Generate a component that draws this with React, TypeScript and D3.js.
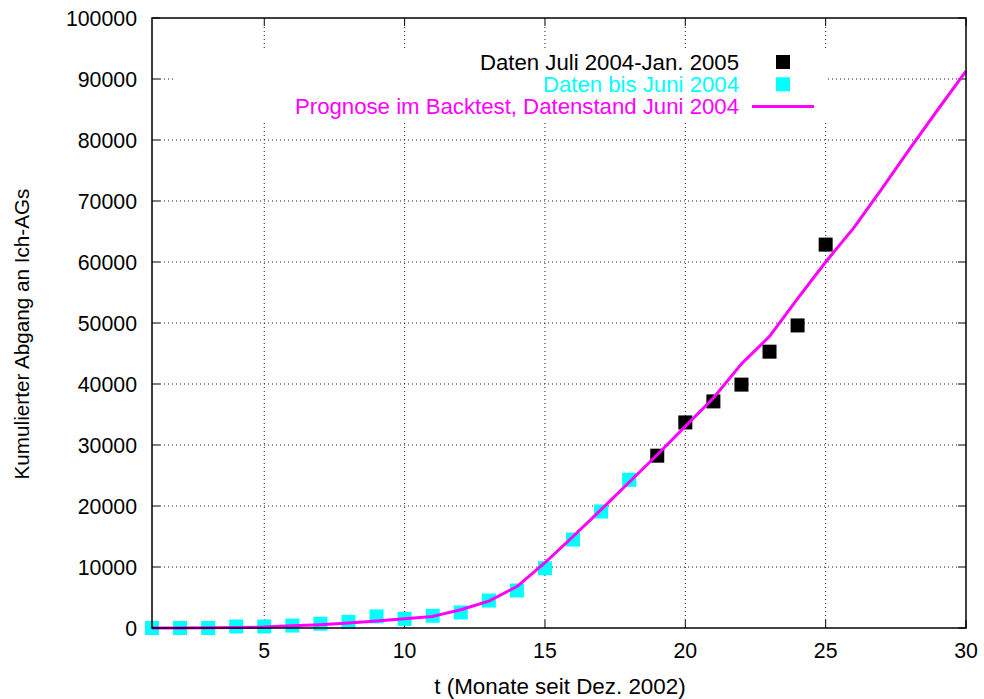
import React from "react";
import * as d3 from "d3";

const WIDTH = 984;
const HEIGHT = 699;
const M = { left: 152, right: 18, top: 18, bottom: 71 };
const FONT = "'Liberation Sans', Arial, Helvetica, sans-serif";

const CYAN = "#00ffff";
const MAGENTA = "#ff00ff";

// Daten bis Juni 2004 (t = 1..18)
const tOld = [1, 2, 3, 4, 5, 6, 7, 8, 9, 10, 11, 12, 13, 14, 15, 16, 17, 18];
const valOld = [0, 0, 0, 250, 250, 400, 700, 1000, 1900, 1500, 2000, 2550, 4500, 6150, 9800, 14500, 19100, 24300];

// Daten Juli 2004 - Jan. 2005 (t = 19..25)
const tNew = [19, 20, 21, 22, 23, 24, 25];
const valNew = [28250, 33700, 37150, 39900, 45300, 49600, 62850];

// Prognose im Backtest (t = 1..30)
const tForecast = [1, 2, 3, 4, 5, 6, 7, 8, 9, 10, 11, 12, 13, 14, 15, 16, 17, 18, 19, 20, 21, 22, 23, 24, 25, 26, 27, 28, 29, 30];
const valForecast = [
  0, 0, 50, 100, 150, 350, 550, 800, 1150, 1500, 1900, 3000, 4400, 6800, 10700,
  15000, 19400, 23900, 28400, 33050, 37700, 43300, 47800, 54000, 60000, 65600,
  72000, 78600, 85000, 91300,
];

const xTicks = [5, 10, 15, 20, 25, 30];
const yTicks = [0, 10000, 20000, 30000, 40000, 50000, 60000, 70000, 80000, 90000, 100000];

const legendItems = [
  { label: "Daten Juli 2004-Jan. 2005", color: "#000000", kind: "square" },
  { label: "Daten bis Juni 2004", color: CYAN, kind: "square" },
  { label: "Prognose im Backtest, Datenstand Juni 2004", color: MAGENTA, kind: "line" },
];

export default function App() {
  const x = d3.scaleLinear().domain([1, 30]).range([M.left, WIDTH - M.right]);
  const y = d3.scaleLinear().domain([0, 100000]).range([HEIGHT - M.bottom, M.top]);
  const x0 = M.left;
  const x1 = WIDTH - M.right;
  const y0 = HEIGHT - M.bottom;
  const y1 = M.top;
  const tick = 8;
  const sq = 14;

  const line = d3
    .line<number>()
    .x((_, i) => x(tForecast[i]))
    .y((d) => y(d));

  // legend box (gnuplot clears grid behind the key)
  const key = { x: 176, y: 51, w: 652, h: 69 };
  const keyRow = (i: number) => 62 + i * 22.3;

  return (
    <svg
      width={WIDTH}
      height={HEIGHT}
      style={{ position: "absolute", left: 0, top: 0, background: "#fff", fontFamily: FONT }}
    >
      {/* grid */}
      <g stroke="#222" strokeWidth={1} strokeDasharray="1,3">
        {xTicks
          .filter((t) => t < 30)
          .map((t) => (
            <line key={"gx" + t} x1={x(t)} x2={x(t)} y1={y0 - tick} y2={y1 + tick} />
          ))}
        {yTicks
          .filter((v) => v > 0 && v < 100000)
          .map((v) => (
            <line key={"gy" + v} x1={x0 + tick} x2={x1 - tick} y1={y(v)} y2={y(v)} />
          ))}
      </g>
      <rect x={key.x} y={key.y} width={key.w} height={key.h} fill="#fff" />

      {/* ticks */}
      <g stroke="#000" strokeWidth={1}>
        {xTicks.map((t) => (
          <g key={"tx" + t}>
            <line x1={x(t)} x2={x(t)} y1={y0} y2={y0 - tick} />
            <line x1={x(t)} x2={x(t)} y1={y1} y2={y1 + tick} />
          </g>
        ))}
        {yTicks.map((v) => (
          <g key={"ty" + v}>
            <line x1={x0} x2={x0 + tick} y1={y(v)} y2={y(v)} />
            <line x1={x1} x2={x1 - tick} y1={y(v)} y2={y(v)} />
          </g>
        ))}
      </g>

      {/* tick labels */}
      <g fontSize={21.3} fill="#000">
        {xTicks.map((t) => (
          <text key={"lx" + t} x={x(t)} y={658} textAnchor="middle">
            {t}
          </text>
        ))}
        {yTicks.map((v) => (
          <text key={"ly" + v} x={137} y={y(v) + 7.5} textAnchor="end">
            {v}
          </text>
        ))}
      </g>

      {/* axis titles */}
      <text x={(x0 + x1) / 2 + 1} y={694} textAnchor="middle" fontSize={22.4}>
        t (Monate seit Dez. 2002)
      </text>
      <text
        transform={`translate(29, 334) rotate(-90)`}
        textAnchor="middle"
        fontSize={20.7}
      >
        Kumulierter Abgang an Ich-AGs
      </text>

      {/* data points */}
      {tOld.map((t, i) => (
        <rect key={"o" + t} x={x(t) - sq / 2} y={y(valOld[i]) - sq / 2} width={sq} height={sq} fill={CYAN} />
      ))}
      {tNew.map((t, i) => (
        <rect key={"n" + t} x={x(t) - sq / 2} y={y(valNew[i]) - sq / 2} width={sq} height={sq} fill="#000" />
      ))}

      {/* forecast */}
      <path d={line(valForecast) || ""} fill="none" stroke={MAGENTA} strokeWidth={3} strokeLinejoin="round" />

      {/* legend */}
      <g fontSize={22.2}>
        {legendItems.map((item, i) => (
          <g key={item.label}>
            <text x={739} y={keyRow(i) + 7.8} textAnchor="end" fill={item.color}>
              {item.label}
            </text>
            {item.kind === "square" ? (
              <rect x={783 - sq / 2} y={keyRow(i) - sq / 2} width={sq} height={sq} fill={item.color} />
            ) : (
              <line x1={752} x2={814} y1={keyRow(i)} y2={keyRow(i)} stroke={item.color} strokeWidth={3} />
            )}
          </g>
        ))}
      </g>

      {/* frame */}
      <rect x={x0} y={y1} width={x1 - x0} height={y0 - y1} fill="none" stroke="#000" strokeWidth={1.5} />
    </svg>
  );
}
